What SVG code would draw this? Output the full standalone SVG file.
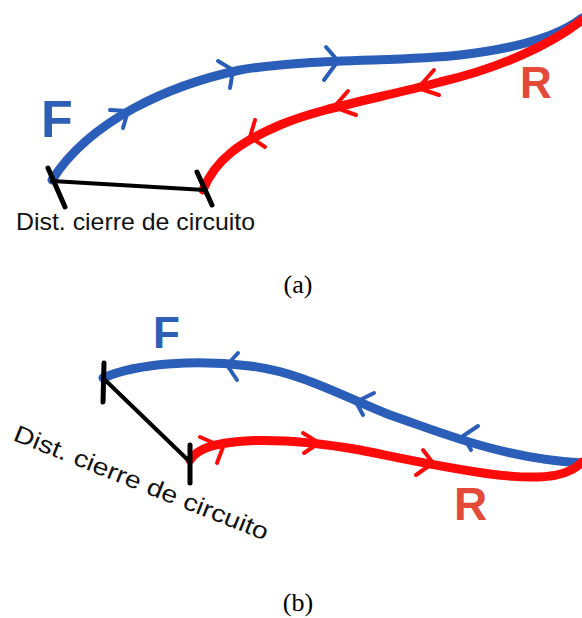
<svg xmlns="http://www.w3.org/2000/svg" width="582" height="618" viewBox="0 0 582 618">
<style>
.blue{fill:none;stroke:#2b5eb8;stroke-width:9;stroke-linecap:round;stroke-linejoin:round}
.red{fill:none;stroke:#ff0a0a;stroke-width:9;stroke-linecap:round;stroke-linejoin:round}
.barb-b{fill:none;stroke:#2b5eb8;stroke-width:4;stroke-linecap:round;stroke-linejoin:round}
.barb-r{fill:none;stroke:#ff0a0a;stroke-width:4;stroke-linecap:round;stroke-linejoin:round}
.dist{fill:none;stroke:#000;stroke-width:4;stroke-linecap:round}
.tick{fill:none;stroke:#000;stroke-width:5;stroke-linecap:round}
.lbl{font-family:"Liberation Sans",Arial,sans-serif;font-size:24px;fill:#111}
.F{font-family:"Liberation Sans",Arial,sans-serif;font-weight:bold;fill:#2e5fb5}
.R{font-family:"Liberation Sans",Arial,sans-serif;font-weight:bold;fill:#e44a38}
.cap{font-family:"Liberation Serif","Times New Roman",serif;font-size:26px;fill:#000;text-anchor:middle}
</style>
<rect width="582" height="618" fill="#fff"/>

<g id="panel-a">
  <g id="connectors-a">
    <path class="blue" d="M52,180 C90,120 170,85 240,70 C310,58 400,62 460,55 C520,48 560,35 582,18"/>
    <path class="red" d="M582,20 C550,45 500,68 440,82 C380,98 320,108 280,125 C240,142 215,160 203,190"/>
    <polyline class="barb-b" points="110,110 128,111 123,128"/>
    <polyline class="barb-b" points="218,61 233,70 230,88"/>
    <polyline class="barb-b" points="326,47 338,61 324,80"/>
    <polyline class="barb-r" points="434,70 418,88 439,95"/>
    <polyline class="barb-r" points="348,91 334,107 356,115"/>
    <polyline class="barb-r" points="255,120 250,137 265,147"/>
    <line class="dist" x1="52" y1="181" x2="205" y2="190"/>
    <line class="tick" x1="48" y1="168" x2="65" y2="207"/>
    <line class="tick" x1="197" y1="172" x2="212" y2="205"/>
  </g>
  <g id="F-a"><text class="F" x="41" y="137" font-size="52">F</text></g>
  <g id="R-a"><text class="R" x="520" y="98" font-size="44">R</text></g>
  <g id="dist-a"><text class="lbl" x="16" y="230" textLength="239" lengthAdjust="spacingAndGlyphs">Dist. cierre de circuito</text></g>
  <text class="cap" x="298" y="293">(a)</text>
</g>

<g id="panel-b">
  <g id="connectors-b">
    <path class="blue" d="M103,378 C140,362 200,360 250,366 C300,372 340,395 390,415 C440,432 500,458 582,463"/>
    <path class="red" d="M190,460 C198,448 215,443 245,441 C280,439 320,443 360,450 C400,458 440,467 490,474 C530,479 565,480 582,462"/>
    <polyline class="barb-b" points="238,353 227,365 237,380"/>
    <polyline class="barb-b" points="374,393 356,402 363,415"/>
    <polyline class="barb-b" points="478,426 463,436 471,450"/>
    <polyline class="barb-r" points="200,437 223,447 217,463"/>
    <polyline class="barb-r" points="303,433 319,443 304,453"/>
    <polyline class="barb-r" points="423,450 433,463 416,475"/>
    <line class="dist" x1="103" y1="378" x2="190" y2="462"/>
    <line class="tick" x1="104" y1="363" x2="103" y2="402"/>
    <line class="tick" x1="190" y1="445" x2="190" y2="483"/>
  </g>
  <g id="F-b"><text class="F" x="153" y="348" font-size="44">F</text></g>
  <g id="R-b"><text class="R" x="454" y="520" font-size="46">R</text></g>
  <g id="dist-b"><text class="lbl" transform="translate(12,440) rotate(21.7)" font-size="26" textLength="272" lengthAdjust="spacingAndGlyphs">Dist. cierre de circuito</text></g>
  <text class="cap" x="298" y="611">(b)</text>
</g>
</svg>
